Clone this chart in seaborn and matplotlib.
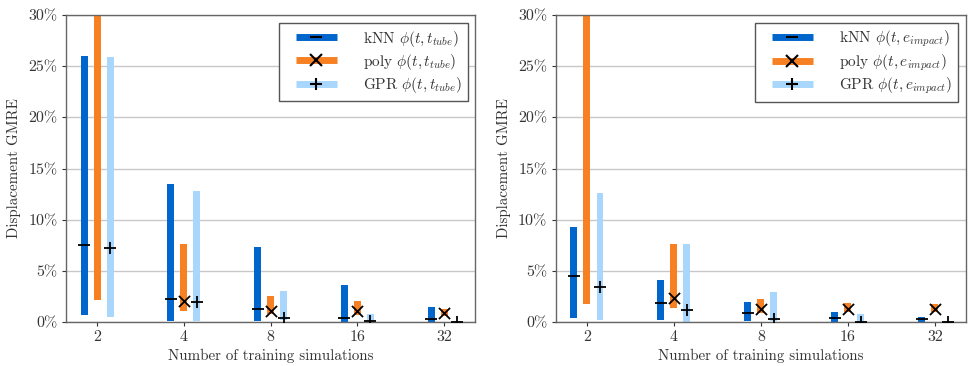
import numpy as np
import pandas as pd
import matplotlib
matplotlib.use("Agg")
import matplotlib.pyplot as plt
import seaborn as sns
from matplotlib.lines import Line2D
from matplotlib.legend_handler import HandlerTuple
from matplotlib.ticker import FuncFormatter

# training set sizes (categorical x axis)
n_train = ["2", "4", "8", "16", "32"]
methods = ["kNN", "poly", "GPR"]

# left panel: phi(t, t_tube)  -- GMRE in %, low / median / high
tube_knn_low = [0.7, 0.1, 0.1, 0.05, 0.05]
tube_knn_med = [7.5, 2.3, 1.25, 0.35, 0.3]
tube_knn_high = [26.0, 13.5, 7.3, 3.65, 1.5]
tube_poly_low = [2.2, 1.1, 0.8, 0.7, 0.6]
tube_poly_med = [38.0, 2.05, 1.1, 1.1, 0.9]
tube_poly_high = [60.0, 7.6, 2.57, 2.05, 1.25]
tube_gpr_low = [0.45, 0.1, 0.2, 0.05, 0.0]
tube_gpr_med = [7.25, 2.0, 0.36, 0.15, 0.02]
tube_gpr_high = [25.9, 12.8, 3.06, 0.75, 0.15]

# right panel: phi(t, e_impact)
imp_knn_low = [0.4, 0.25, 0.1, 0.05, 0.05]
imp_knn_med = [4.5, 1.9, 0.9, 0.42, 0.26]
imp_knn_high = [9.25, 4.15, 2.0, 0.95, 0.46]
imp_poly_low = [1.8, 1.35, 0.9, 1.0, 1.0]
imp_poly_med = [36.0, 2.35, 1.24, 1.24, 1.24]
imp_poly_high = [55.0, 7.6, 2.3, 1.83, 1.73]
imp_gpr_low = [0.2, 0.0, 0.15, 0.05, 0.0]
imp_gpr_med = [3.45, 1.15, 0.26, 0.05, 0.02]
imp_gpr_high = [12.6, 7.6, 2.9, 0.8, 0.1]

colors = {"kNN": "#0066cc", "poly": "#f78122", "GPR": "#a8d6fc"}
markers = {"kNN": "_", "poly": "x", "GPR": "+"}
offsets = {"kNN": -0.15, "poly": 0.0, "GPR": 0.15}


def build_frame(knn, poly, gpr):
    rows = []
    for name, (lo, med, hi) in zip(methods, [knn, poly, gpr]):
        for i, n in enumerate(n_train):
            rows.append({"method": name, "idx": i, "n": n,
                         "low": lo[i], "med": med[i], "high": hi[i]})
    df = pd.DataFrame(rows)
    df["x"] = df["idx"] + df["method"].map(offsets)
    return df


panels = [
    (build_frame((tube_knn_low, tube_knn_med, tube_knn_high),
                 (tube_poly_low, tube_poly_med, tube_poly_high),
                 (tube_gpr_low, tube_gpr_med, tube_gpr_high)),
     r"\phi(t, t_{tube})"),
    (build_frame((imp_knn_low, imp_knn_med, imp_knn_high),
                 (imp_poly_low, imp_poly_med, imp_poly_high),
                 (imp_gpr_low, imp_gpr_med, imp_gpr_high)),
     r"\phi(t, e_{impact})"),
]

sns.set_theme(style="whitegrid")
plt.rcParams["font.family"] = ["cmr10", "DejaVu Serif"]
plt.rcParams["mathtext.fontset"] = "cm"
plt.rcParams["axes.formatter.use_mathtext"] = True
plt.rcParams["axes.unicode_minus"] = False

fig = plt.figure(figsize=(9.68, 3.66), dpi=100)
ax_pos = [[0.068, 0.120, 0.423, 0.839], [0.574, 0.120, 0.424, 0.839]]

for (df, phi), pos in zip(panels, ax_pos):
    ax = fig.add_axes(pos)
    # floating bars: low -> high range per method
    for m in methods:
        sub = df[df["method"] == m]
        ax.bar(sub["x"], sub["high"] - sub["low"], bottom=sub["low"],
               width=0.08, color=colors[m], edgecolor="none", zorder=2)
    # median markers
    for m in methods:
        sub = df[df["method"] == m]
        sns.scatterplot(data=sub, x="x", y="med", marker=markers[m],
                        color="black", s=64, linewidth=1.3, ax=ax,
                        zorder=3, clip_on=True)

    ax.set_xlim(-0.36, 4.36)
    ax.set_ylim(0, 30)
    ax.set_xticks(range(len(n_train)))
    ax.set_xticklabels(n_train)
    ax.set_yticks(np.arange(0, 31, 5))
    ax.yaxis.set_major_formatter(FuncFormatter(lambda v, p: f"{v:.0f}%"))
    ax.grid(axis="x", visible=False)
    ax.grid(axis="y", color="#c8c8c8", linewidth=1.0)
    ax.set_axisbelow(True)
    for sp in ax.spines.values():
        sp.set_color("#666666")
        sp.set_linewidth(1.0)
    ax.tick_params(axis="both", labelsize=11.5, colors="#333333",
                   length=3, width=0.8, direction="out", pad=3)
    ax.tick_params(axis="x", bottom=True)
    ax.tick_params(axis="y", left=True)
    ax.set_xlabel("Number of training simulations", fontsize=10.8,
                  color="#333333", labelpad=3)
    ax.set_ylabel("Displacement GMRE", fontsize=10.8, color="#333333",
                  labelpad=5)

    handles = []
    labels = []
    for m in methods:
        bar_h = Line2D([], [], color=colors[m], linewidth=5,
                       solid_capstyle="butt")
        mk_h = Line2D([], [], color="black", marker=markers[m], linestyle="none",
                      markersize=8, markeredgewidth=1.5)
        handles.append((bar_h, mk_h))
        labels.append(f"{m} ${phi}$")
    leg = ax.legend(handles, labels, loc="upper right", fontsize=11,
                    handlelength=3.4, handletextpad=1.7, borderpad=0.4,
                    labelspacing=0.2, borderaxespad=0.5,
                    fancybox=False, framealpha=1.0, edgecolor="#555555",
                    handler_map={tuple: HandlerTuple(ndivide=1, xpad=0.7)})
    leg.get_frame().set_linewidth(1.0)
    for t in leg.get_texts():
        t.set_color("#333333")

fig.savefig("out.png", dpi=100)
